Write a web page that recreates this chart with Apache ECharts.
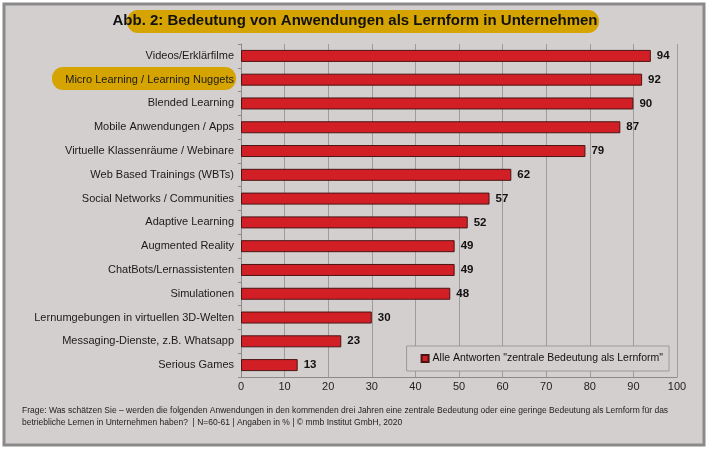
<!DOCTYPE html>
<html>
<head>
<meta charset="utf-8">
<script src="https://cdn.jsdelivr.net/npm/echarts@6/dist/echarts.min.js"></script>
<style>
  html, body { margin: 0; padding: 0; background: #fff; }
  #chart-container { width: 710px; height: 451px; }
</style>
</head>
<body>
<div id="chart-container"></div>
<script>
var categories = [
  'Videos/Erklärfilme',
  'Micro Learning / Learning Nuggets',
  'Blended Learning',
  'Mobile Anwendungen / Apps',
  'Virtuelle Klassenräume / Webinare',
  'Web Based Trainings (WBTs)',
  'Social Networks / Communities',
  'Adaptive Learning',
  'Augmented Reality',
  'ChatBots/Lernassistenten',
  'Simulationen',
  'Lernumgebungen in virtuellen 3D-Welten',
  'Messaging-Dienste, z.B. Whatsapp',
  'Serious Games'
];
var values = [94, 92, 90, 87, 79, 62, 57, 52, 49, 49, 48, 30, 23, 13];
var seriesName = 'Alle Antworten "zentrale Bedeutung als Lernform"';
var titleText = 'Abb. 2: Bedeutung von Anwendungen als Lernform in Unternehmen';
var footnote = 'Frage: Was schätzen Sie – werden die folgenden Anwendungen in den kommenden drei Jahren eine zentrale Bedeutung oder eine geringe Bedeutung als Lernform für das\n' +
  'betriebliche Lernen in Unternehmen haben?  | N=60-61 | Angaben in % | © mmb Institut GmbH, 2020';

var dom = document.getElementById('chart-container');
var myChart = echarts.init(dom, null, { renderer: 'canvas' });

var bg = '#D4CFCF';
var gold = '#D6A400';

var option = {
  backgroundColor: '#ffffff',
  animation: false,
  textStyle: { fontFamily: 'Liberation Sans, Arial, sans-serif' },
  graphic: [
    // outer frame
    { type: 'rect', z: -10, shape: { x: 4, y: 4, width: 700, height: 441 },
      style: { fill: bg, stroke: '#8a8a8a', lineWidth: 3 } },
    // title highlight
    { type: 'rect', z: -5, shape: { x: 127, y: 10, width: 472, height: 23, r: 11 },
      style: { fill: gold } },
    { type: 'text', left: 'center', top: 13, z: 10,
      style: { text: titleText, fill: '#111', font: 'bold 15px "Liberation Sans", Arial, sans-serif' } },
    // highlighted category
    { type: 'rect', z: -5, shape: { x: 52, y: 67, width: 184, height: 23, r: 11 },
      style: { fill: gold } },
    // footnote
    { type: 'text', left: 22, top: 405, z: 10,
      style: { text: footnote, fill: '#222', lineHeight: 12,
        font: '8.5px "Liberation Sans", Arial, sans-serif' } }
  ],
  legend: {
    right: 41, top: 346,
    padding: [7, 6, 7, 14],
    backgroundColor: bg,
    borderColor: '#9a9a9a', borderWidth: 1,
    itemWidth: 7, itemHeight: 7, itemGap: 3,
    icon: 'rect',
    textStyle: { fontSize: 10.5, color: '#111', padding: [0, 0, 0, -1] },
    data: [seriesName]
  },
  grid: { left: 241, right: 33, top: 44, bottom: 74, containLabel: false },
  xAxis: {
    type: 'value', min: 0, max: 100, interval: 10,
    axisLine: { show: true, lineStyle: { color: '#8a8a8a' } },
    axisTick: { show: false },
    axisLabel: { color: '#222', fontSize: 11, margin: 4 },
    splitLine: { show: true, lineStyle: { color: '#9c9c9c', width: 1 } }
  },
  yAxis: {
    type: 'category', inverse: true, data: categories,
    axisLine: { show: true, lineStyle: { color: '#8a8a8a' } },
    axisTick: { show: true, length: 3, lineStyle: { color: '#8a8a8a' } },
    axisLabel: { color: '#1a1a1a', fontSize: 11, margin: 7 }
  },
  series: [{
    name: seriesName,
    type: 'bar',
    data: values,
    barWidth: 12,
    itemStyle: { color: '#D21F26', borderColor: '#4a1414', borderWidth: 1 },
    label: { show: true, position: 'right', distance: 6,
      color: '#111', fontWeight: 'bold', fontSize: 11.5 }
  }]
};

myChart.setOption(option);
window.addEventListener('resize', myChart.resize);
</script>
</body>
</html>
